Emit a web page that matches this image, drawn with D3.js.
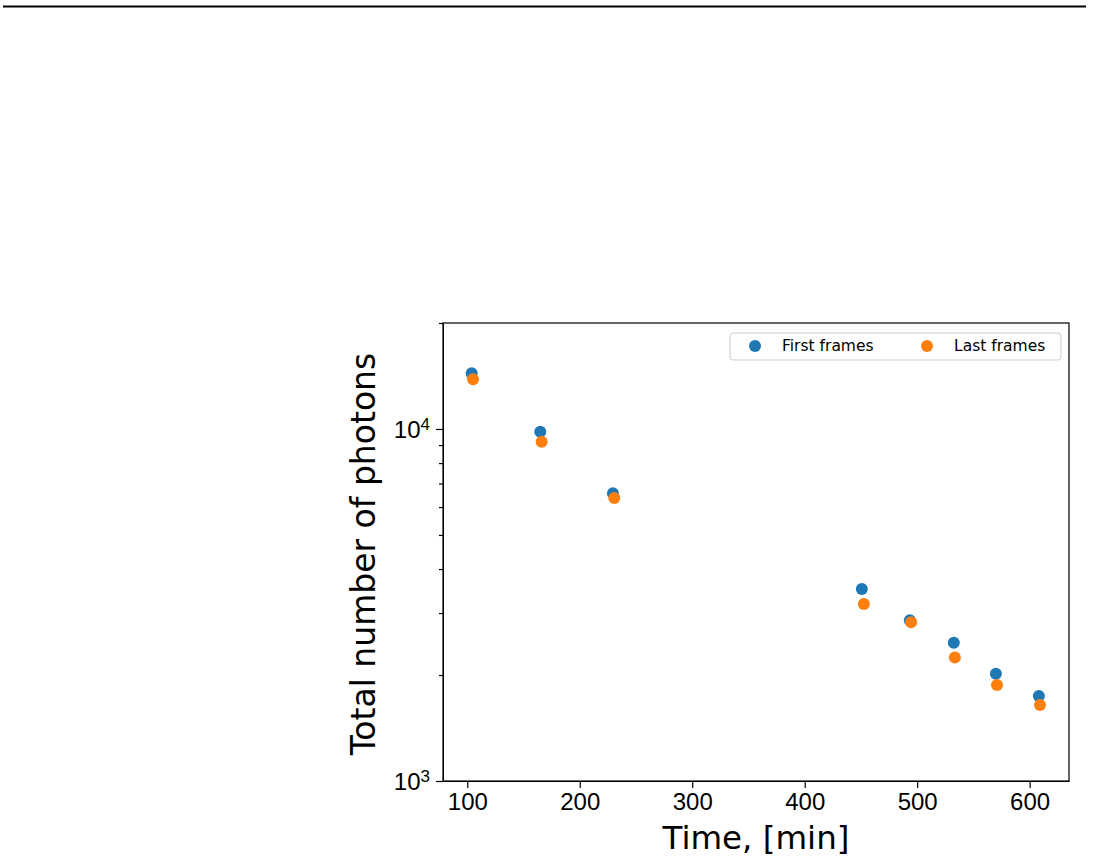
<!DOCTYPE html>
<html>
<head>
<meta charset="utf-8">
<script src="https://cdn.jsdelivr.net/npm/d3@7"></script>
<style>
  body { margin: 0; background: #fff; }
  svg { font-family: "DejaVu Sans", sans-serif; }
</style>
</head>
<body>
<div id="chart"></div>
<script>
// Data
const firstTime = [103.9, 164.9, 229.5, 450.8, 493.5, 532.6, 570.0, 608.2];
const firstPhotons = [14390, 9825, 6565, 3512, 2860, 2470, 2018, 1744];
const lastTime = [105.1, 166.1, 230.7, 452.6, 494.6, 533.5, 571.0, 609.2];
const lastPhotons = [13840, 9204, 6368, 3183, 2826, 2242, 1874, 1644];
const xTicks = [100, 200, 300, 400, 500, 600];
const seriesNames = ["First frames", "Last frames"];
const colors = ["#1f77b4", "#ff7f0e"];

const W = 1093, H = 859;
const margin = { top: 323, right: 24, bottom: 78, left: 443 },
    width = W - margin.left - margin.right,
    height = H - margin.top - margin.bottom;

const svg = d3.select("#chart").append("svg")
    .attr("width", W)
    .attr("height", H);

// thin rule across the top
svg.append("line")
    .attr("x1", 3).attr("x2", 1086)
    .attr("y1", 6.5).attr("y2", 6.5)
    .attr("stroke", "#000").attr("stroke-width", 2);

const g = svg.append("g")
    .attr("transform", `translate(${margin.left},${margin.top})`);

const x = d3.scaleLinear().domain([78.4, 635]).range([0, width]);
const y = d3.scaleLog().domain([1000, 20000]).range([height, 0]);

// X axis
const xAxis = g.append("g")
    .attr("transform", `translate(0,${height})`)
    .call(d3.axisBottom(x).tickValues(xTicks).tickSize(7).tickSizeOuter(0).tickPadding(5).tickFormat(d3.format("d")));
xAxis.selectAll("text").attr("font-size", "24px").attr("fill", "#000");

// Y axis - minor ticks
const minor = [];
for (let v = 2000; v <= 9000; v += 1000) minor.push(v);
minor.push(20000);
g.append("g")
    .call(d3.axisLeft(y).tickValues(minor).tickSize(4).tickSizeOuter(0).tickFormat(""))
    .select(".domain").remove();

// Y axis - major ticks
const yAxis = g.append("g")
    .call(d3.axisLeft(y).tickValues([1000, 10000]).tickSize(7).tickSizeOuter(0).tickFormat(""));
yAxis.selectAll(".tick").each(function(d) {
    const t = d3.select(this).append("text")
        .attr("x", -13).attr("dy", "0.35em")
        .attr("text-anchor", "end").attr("fill", "#000")
        .attr("font-size", "24px");
    t.append("tspan").text("10");
    t.append("tspan").attr("dy", "-0.45em").attr("font-size", "17px").text(Math.round(Math.log10(d)));
});

g.selectAll(".domain").attr("stroke", "#000");
g.selectAll(".tick line").attr("stroke", "#000").attr("stroke-width", 1.2);

// frame: top and right
g.append("rect")
    .attr("width", width).attr("height", height)
    .attr("fill", "none").attr("stroke", "#000").attr("stroke-width", 1.2);

// points
const series = [
    firstTime.map((t, i) => ({ t, v: firstPhotons[i] })),
    lastTime.map((t, i) => ({ t, v: lastPhotons[i] }))
];
series.forEach((s, k) => {
    g.selectAll(null)
        .data(s)
        .enter().append("circle")
        .attr("cx", d => x(d.t))
        .attr("cy", d => y(d.v))
        .attr("r", 6)
        .attr("fill", colors[k]);
});

// axis labels
svg.append("text")
    .attr("x", margin.left + width / 2)
    .attr("y", 849)
    .attr("text-anchor", "middle")
    .attr("font-size", "32.5px")
    .text("Time, [min]");

svg.append("text")
    .attr("transform", "rotate(-90)")
    .attr("x", -(margin.top + height / 2) - 2)
    .attr("y", 375)
    .attr("text-anchor", "middle")
    .attr("font-size", "33px")
    .text("Total number of photons");

// legend
const legend = svg.append("g").attr("transform", "translate(730,333)");
legend.append("rect")
    .attr("width", 331).attr("height", 27).attr("rx", 3)
    .attr("fill", "#fff").attr("fill-opacity", 0.8)
    .attr("stroke", "#ccc");
const legendX = [25, 197];
seriesNames.forEach((name, k) => {
    legend.append("circle")
        .attr("cx", legendX[k]).attr("cy", 13).attr("r", 6)
        .attr("fill", colors[k]);
    legend.append("text")
        .attr("x", legendX[k] + 27).attr("y", 13).attr("dy", "0.35em")
        .attr("font-size", "15.5px")
        .text(name);
});
</script>
</body>
</html>
